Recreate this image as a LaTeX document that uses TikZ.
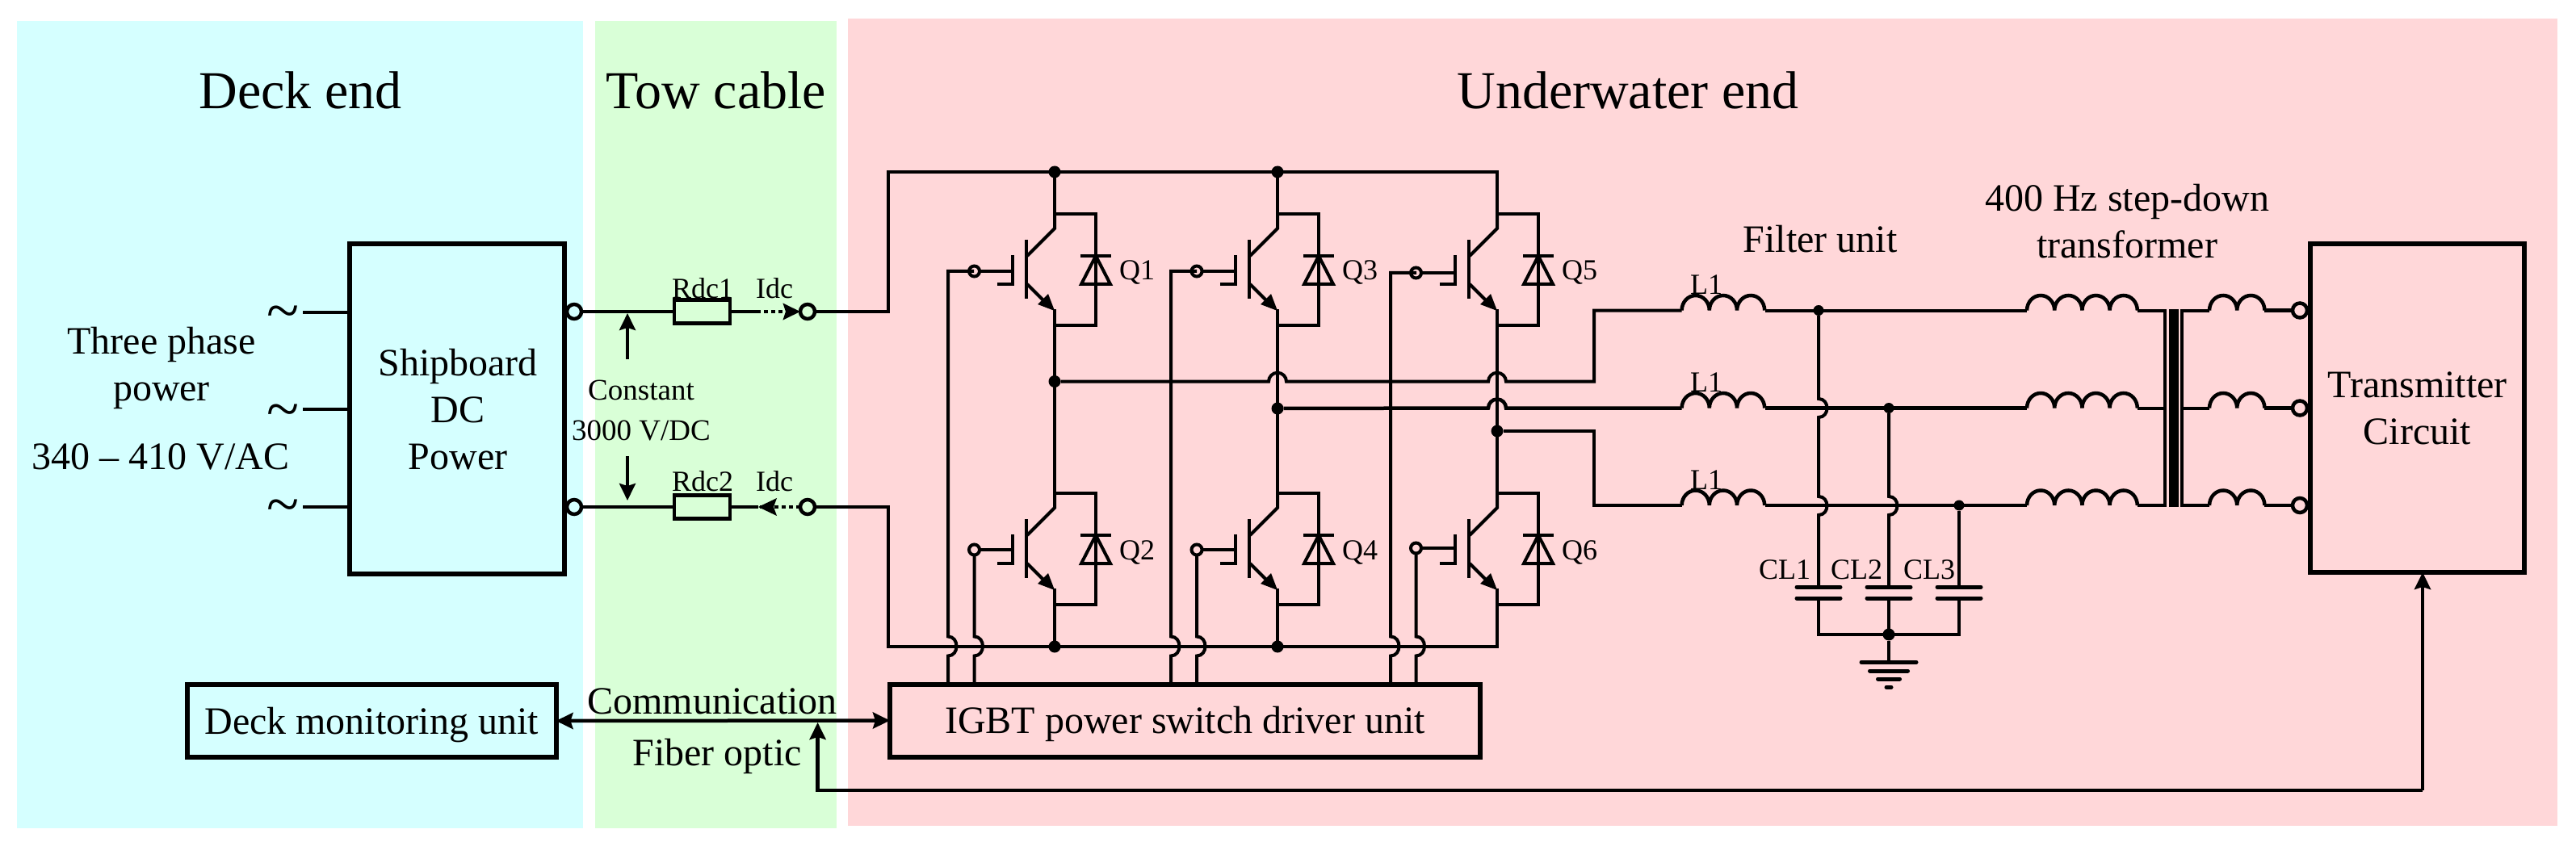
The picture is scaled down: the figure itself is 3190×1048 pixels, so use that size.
\documentclass[tikz,border=0pt]{standalone}
\usepackage{fontspec}
\setmainfont{Liberation Serif}
\usetikzlibrary{arrows.meta,calc}
\definecolor{pcyan}{HTML}{D5FFFF}
\definecolor{pgreen}{HTML}{D9FFD7}
\definecolor{ppink}{HTML}{FFD7D9}
\tikzset{
  wire/.style={draw=black,line width=4.5pt,line join=miter},
  thinw/.style={draw=black,line width=4pt,line join=miter},
  heavy/.style={draw=black,line width=6pt},
  dotw/.style={draw=black,line width=4.5pt,dash pattern=on 5pt off 4pt},
  plate/.style={draw=black,line width=5pt,line cap=round},
  arrowhd/.style={-{Stealth[length=21pt,width=20pt,inset=3pt]}},
  arrowbi/.style={{Stealth[length=21pt,width=20pt,inset=3pt]}-{Stealth[length=21pt,width=20pt,inset=3pt]}},
  term/.style={circle,draw=black,line width=4.5pt,inner sep=0pt,minimum size=18pt,outer sep=0pt},
  gterm/.style={circle,draw=black,line width=4pt,inner sep=0pt,minimum size=13pt,outer sep=0pt},
  jun/.style={circle,fill=black,inner sep=0pt,minimum size=15pt,outer sep=0pt},
  box/.style={heavy,inner sep=0pt,outer sep=0pt,align=center,font=\fontsize{48}{58}\selectfont},
  res/.style={wire,inner sep=0pt,outer sep=0pt,minimum width=69pt,minimum height=29pt},
  lab/.style={inner sep=0pt,align=center,font=\fontsize{48}{58}\selectfont},
  sml/.style={inner sep=0pt,align=center,font=\fontsize{36}{50}\selectfont},
  ttl/.style={inner sep=0pt,font=\fontsize{66}{70}\selectfont},
  tld/.style={inner sep=0pt,font=\fontsize{74}{76}\selectfont},
}
% IGBT with antiparallel diode: #1 name, #2 collector x, #3 y of upper branch, #4 gate terminal x, #5 gate y
\newcommand{\igbtq}[5]{%
  \begin{scope}[shift={(#2,#3)}]
    \coordinate (#1c) at (0,0);
    \coordinate (#1e) at (0,138);
    \draw[thinw] (0,0) -- (0,18) -- (-34,52);
    \draw[thinw] (-35,32) -- (-35,105);
    \draw[thinw] (-52,51) -- (-52,87) -- (-71,87);
    \draw[thinw] (-34,87) -- (-10,111);
    \fill (0,120) -- (-21,112) -- (-8,99) -- cycle;
    \draw[thinw] (0,118) -- (0,138) -- (51,138) -- (51,0) -- (0,0);
    \draw[thinw] (32,51.7) -- (70,51.7);
    \draw[thinw,line join=miter] (51,52) -- (33,87) -- (69,87) -- cycle;
    \node[sml] (#1l) at (102,73) {#1};
  \end{scope}
  \node[gterm] (#1g) at (#4,#5) {};
  \draw[thinw] (#1g) -- (#2-52,#5);
}
% coil: start x, y, number of humps
\newcommand{\coilq}[3]{%
  \draw[wire] (#1,#2) foreach \i in {1,...,#3} { arc[start angle=180,end angle=360,x radius=17.1,y radius=18.5] };
}
\begin{document}
\begin{tikzpicture}[x=1pt,y=-1pt]
\useasboundingbox (0,0) rectangle (3190,1048);
\fill[white] (0,0) rectangle (3190,1048);
\fill[pcyan] (21,26) rectangle (721.5,1026);
\fill[pgreen] (736.5,26) rectangle (1036,1026);
\fill[ppink] (1050,23) rectangle (3167,1023);
\node[ttl] (t-deck) at (372,112) {Deck end};
\node[ttl] (t-tow) at (887,112) {Tow cable};
\node[ttl] (t-under) at (2016,112) {Underwater end};

% Deck end
\node[box,minimum width=266pt,minimum height=409pt] (ship) at (566,506.5) {};
\node[lab] (shiptxt) at (567,507.5) {Shipboard\\DC\\Power};
\node[lab] (tpp) at (200,455.5) {Three phase\\power};
\node[lab] (volt) at (199,566) {340 – 410 V/AC};
\coordinate (a1) at (375,387);\coordinate (a2) at (375,507);\coordinate (a3) at (375,628);
\node[tld] (w1) at (351,394) {\symbol{126}};
\node[tld] (w2) at (351,516) {\symbol{126}};
\node[tld] (w3) at (351,634) {\symbol{126}};
\draw[wire] (a1) -- (a1 -| ship.west);
\draw[wire] (a2) -- (a2 -| ship.west);
\draw[wire] (a3) -- (a3 -| ship.west);

% DC link
\node[term] (t1) at (711,386) {};
\node[term] (t2) at (711,628) {};
\node[term] (t3) at (1000,386) {};
\node[term] (t4) at (1000,628) {};
\node[res] (r1) at (869.5,386) {};
\node[res] (r2) at (869.5,628) {};
\node[sml] (rl1) at (870,357) {Rdc1};
\node[sml] (rl2) at (870,596) {Rdc2};
\node[sml] (il1) at (959,357) {Idc};
\node[sml] (il2) at (959,596) {Idc};
\draw[wire] (t1) -- (r1);
\draw[wire] (t2) -- (r2);
\coordinate (d1) at (937,386);
\coordinate (d2) at (939,628);
\draw[wire] (r1) -- (d1);
\draw[wire] (r2) -- (d2);
\draw[dotw,arrowhd] (d1) -- (t3.west);
\draw[dotw] (t4.west) -- (d2);
\fill (939,628) -- (962,617) -- (958,628) -- (962,639) -- cycle;
\node[sml,font=\fontsize{37}{50}\selectfont] (cv) at (794,509) {Constant\\3000 V/DC};
\coordinate (v1) at (777,445);\coordinate (v2) at (777,388);
\coordinate (v3) at (777,565);\coordinate (v4) at (777,620);
\draw[wire,line width=4pt,arrowhd] (v1) -- (v2);
\draw[wire,line width=4pt,arrowhd] (v3) -- (v4);

% rails
\coordinate (rt1) at (1100,213);\coordinate (rb1) at (1100,801);
\node[jun] (j1) at (1306,213) {};
\node[jun] (j2) at (1582,213) {};
\node[jun] (j3) at (1306,801) {};
\node[jun] (j4) at (1582,801) {};
\coordinate (rt2) at (1854,213);\coordinate (rb2) at (1854,801);
\draw[wire] (t3) -| (rt1) -- (rt2) -- (1854,265);
\draw[wire] (t4) -| (rb1) -- (rb2) -- (1854,749);

% IGBTs
\igbtq{Q1}{1306}{265}{1206.5}{336}
\igbtq{Q2}{1306}{611}{1206.5}{681}
\igbtq{Q3}{1582}{265}{1482}{336}
\igbtq{Q4}{1582}{611}{1482}{681}
\igbtq{Q5}{1854}{265}{1753.5}{338}
\igbtq{Q6}{1854}{611}{1753.5}{679}
\draw[wire] (Q1e) -- (Q2c);
\draw[wire] (Q3e) -- (Q4c);
\draw[wire] (Q5e) -- (Q6c);
\draw[wire] (j1) -- (Q1c);
\draw[wire] (j2) -- (Q3c);
\draw[wire] (Q2e) -- (j3);
\draw[wire] (Q4e) -- (j4);

\node[jun] (m1) at (1306,472.5) {};
\node[jun] (m2) at (1582,506) {};
\node[jun] (m3) at (1854,534) {};

% driver
\node[box,minimum width=731pt,minimum height=90pt,text height=40pt,text depth=8pt] (drv) at (1467.5,892.5) {IGBT power switch driver unit};
\node[box,minimum width=457pt,minimum height=90pt,text height=40pt,text depth=8pt] (mon) at (460,893) {Deck monitoring unit};
\draw[wire,arrowbi] (mon.east) -- (drv.west);
\node[lab] (com) at (882,868.5) {Communication};
\node[lab] (fib) at (888,936.5) {Fiber optic};

% gate wires with hops over the lower rail
\foreach \gx/\gy in {1174/336,1450/336,1722/338}{
  \draw[thinw] (\gx+32,\gy) -- (\gx,\gy) -- (\gx,788.5) .. controls (\gx+14,788.5) and (\gx+14,812.5) .. (\gx,812.5) -- (\gx,847);
}
\foreach \gx/\gy in {1206.5/687.5,1482/687.5,1753.5/685.5}{
  \draw[thinw] (\gx,\gy) -- (\gx,788.5) .. controls (\gx+14,788.5) and (\gx+14,812.5) .. (\gx,812.5) -- (\gx,847);
}

% phase outputs
\coordinate (b1) at (1974,472.7);\coordinate (b3) at (1974,534);
\coordinate (p1) at (2082.6,384.5);\coordinate (p2) at (2082.6,505.5);\coordinate (p3) at (2082.6,626);
\draw[thinw] (m1) -- (1571,472.7) arc[start angle=180,end angle=360,radius=11] -- (1843,472.7) arc[start angle=180,end angle=360,radius=11] -- (b1) |- (p1);
\draw[wire] (m2) -- (1843,505.5) arc[start angle=180,end angle=360,radius=11] -- (p2);
\draw[thinw] (m3) -- (b3) |- (p3);
\coilq{2082.6}{384.5}{3}
\coilq{2082.6}{505.5}{3}
\coilq{2082.6}{626}{3}
\node[sml] (l1) at (2113,353) {L1};
\node[sml] (l2) at (2113,474) {L1};
\node[sml] (l3) at (2113,595) {L1};
\node[lab] (fu) at (2254,296) {Filter unit};
\node[lab] (tf) at (2634,274) {400 Hz step-down\\transformer};

\node[jun,minimum size=13pt] (f1) at (2252,384.5) {};
\node[jun,minimum size=13pt] (f2) at (2339,505.5) {};
\node[jun,minimum size=13pt] (f3) at (2426,626) {};
\coordinate (c1) at (2252,727);\coordinate (c2) at (2339,727);\coordinate (c3) at (2426,727);
\draw[thinw] (2185.5,384.5) -- (2510,384.5);
\draw[wire] (2185.5,505.5) -- (2510,505.5);
\draw[thinw] (2185.5,626) -- (2510,626);
\draw[thinw] (f1) -- (2252,494) .. controls (2266,494) and (2266,517) .. (2252,517) -- (2252,615) .. controls (2266,615) and (2266,638) .. (2252,638) -- (c1);
\draw[thinw] (f2) -- (2339,615) .. controls (2353,615) and (2353,638) .. (2339,638) -- (c2);
\draw[thinw] (f3) -- (c3);
\foreach \cx in {2252,2339,2426}{
  \draw[plate] (\cx-27,727.3) -- (\cx+27,727.3);
  \draw[plate] (\cx-27,741) -- (\cx+27,741);
}
\node[jun,minimum size=15pt] (gj) at (2339,786) {};
\coordinate (g0) at (2339,820);
\draw[thinw] (2252,741) |- (2426,786) -- (2426,741);
\draw[thinw] (2339,741) -- (gj) -- (g0);
\draw[plate] (2305,820.3) -- (2373,820.3);
\draw[plate] (2315.5,831) -- (2362.5,831);
\draw[plate] (2325.5,841) -- (2352.5,841);
\draw[plate] (2336,851.3) -- (2342,851.3);
\node[sml] (cl1) at (2210,706) {CL1};
\node[sml] (cl2) at (2299,706) {CL2};
\node[sml] (cl3) at (2389,706) {CL3};

% transformer
\coilq{2510}{384.5}{4}
\coilq{2510}{505.5}{4}
\coilq{2510}{626}{4}
\draw[thinw] (2646.8,384.5) -- (2681,384.5);
\draw[thinw] (2646.8,505.5) -- (2681,505.5);
\draw[thinw] (2646.8,626) -- (2681,626);
\draw[thinw] (2681,383) -- (2681,628);
\fill (2686,383) rectangle (2697.5,628);
\draw[thinw] (2702,383) -- (2702,628);
\draw[thinw] (2702,384.5) -- (2736,384.5);
\draw[thinw] (2702,505.5) -- (2736,505.5);
\draw[thinw] (2702,626) -- (2736,626);
\coilq{2736}{384.5}{2}
\coilq{2736}{505.5}{2}
\coilq{2736}{626}{2}

% transmitter
\node[box,minimum width=265pt,minimum height=407pt] (tx) at (2993.5,505.5) {Transmitter\\Circuit};
\node[term] (o1) at (2848,384.5) {};
\node[term] (o2) at (2848,505.5) {};
\node[term] (o3) at (2848,626) {};
\draw[wire] (2804.4,384.5) -- (o1);
\draw[wire] (2804.4,505.5) -- (o2);
\draw[wire] (2804.4,626) -- (o3);

% fibre loop
\coordinate (fa) at (1012.6,979);\coordinate (fb) at (3000,979);
\coordinate (fc) at (1012.6,895);
\draw[wire,arrowhd] (fb) -- (fb |- tx.south);
\draw[wire,arrowhd] (fb) -- (fa) -- (fc);
\end{tikzpicture}
\end{document}
